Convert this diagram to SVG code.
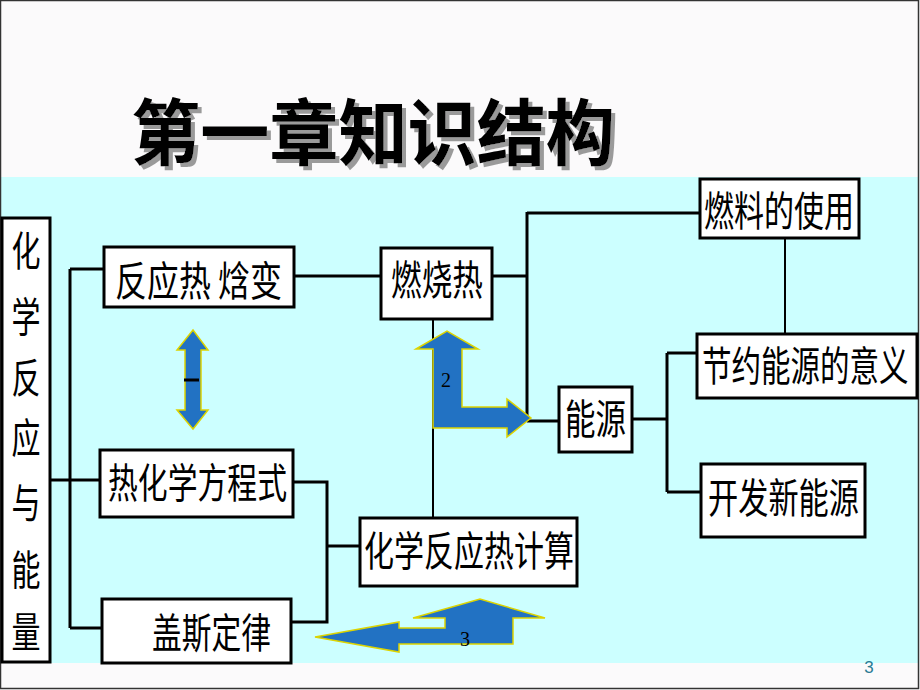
<svg xmlns="http://www.w3.org/2000/svg" width="920" height="690" viewBox="0 0 920 690">
<style>
.box{fill:#fff;stroke:#000;stroke-width:3}
.t{font-family:"Noto Sans CJK SC","Noto Sans CJK JP",sans-serif;font-size:41px;fill:#000}
.ln{fill:none;stroke:#000;stroke-width:3}
.thin{fill:none;stroke:#000;stroke-width:2}
.arr{fill:#2272C3;stroke:#DDD400;stroke-width:1.5}
.num{font-family:"Liberation Serif",serif;font-size:20px;fill:#000}
</style>
<defs>
<filter id="shadow" x="-5%" y="-20%" width="115%" height="150%">
<feOffset in="SourceAlpha" dx="4" dy="4" result="off"/>
<feFlood flood-color="#9a9a9a"/>
<feComposite in2="off" operator="in" result="sh"/>
<feMerge><feMergeNode in="sh"/><feMergeNode in="SourceGraphic"/></feMerge>
</filter>
</defs>
<rect x="0" y="0" width="920" height="690" fill="#FBFAFB"/>
<rect x="0" y="177" width="918" height="486" fill="#CCFFFF"/>
<rect x="0.5" y="0.5" width="918" height="688" fill="none" stroke="#333" stroke-width="1.5"/>
<g id="title">
<text x="131" y="159" font-family="'Noto Sans CJK SC',sans-serif" font-size="72" font-weight="700" fill="#000" textLength="484" lengthAdjust="spacingAndGlyphs" filter="url(#shadow)">第一章知识结构</text>
</g>
<g id="connectors">
<path class="ln" d="M50 480H100"/>
<path class="ln" d="M70 269V628"/>
<path class="ln" d="M70 269H104"/>
<path class="ln" d="M70 628H102"/>
<path class="ln" d="M294 276H381"/>
<path class="ln" d="M492 276H527"/>
<path class="ln" d="M527 212V421"/>
<path class="ln" d="M527 213H700"/>
<path class="ln" d="M527 421H559"/>
<path class="thin" d="M785 238V334"/>
<path class="ln" d="M632 419H667"/>
<path class="ln" d="M667 353V492"/>
<path class="ln" d="M667 353H697"/>
<path class="ln" d="M667 492H701"/>
<path class="thin" d="M433 319V518"/>
<path class="ln" d="M293 482H327V622H291"/>
<path class="ln" d="M327 546H360"/>
</g>
<g id="arrows">
<polygon class="arr" points="193,330 208,350 201,350 201,410 208,410 193,429 177,410 185,410 185,350 177,350"/>
<path d="M184 380H199" stroke="#000" stroke-width="3" fill="none"/>
<polygon class="arr" points="416,349 447,331 478,349 462,349 462,407 507,407 507,399 531,418 507,437 507,428 433,428 433,349"/>
<text class="num" x="446" y="387" text-anchor="middle">2</text>
<polygon class="arr" points="315,637 399,622 399,628 445,628 445,618 413,618 480,599 545,618 513,618 513,644 399,644 399,652"/>
<text class="num" x="465" y="646" text-anchor="middle">3</text>
</g>
<g id="n-left">
<rect class="box" x="2" y="218" width="48" height="444"/>
<text class="t" text-anchor="middle" x="26" y="266" textLength="29" lengthAdjust="spacingAndGlyphs">化</text>
<text class="t" text-anchor="middle" x="26" y="332" textLength="29" lengthAdjust="spacingAndGlyphs">学</text>
<text class="t" text-anchor="middle" x="26" y="393" textLength="29" lengthAdjust="spacingAndGlyphs">反</text>
<text class="t" text-anchor="middle" x="26" y="453" textLength="29" lengthAdjust="spacingAndGlyphs">应</text>
<text class="t" text-anchor="middle" x="26" y="518" textLength="29" lengthAdjust="spacingAndGlyphs">与</text>
<text class="t" text-anchor="middle" x="26" y="585" textLength="29" lengthAdjust="spacingAndGlyphs">能</text>
<text class="t" text-anchor="middle" x="26" y="647" textLength="29" lengthAdjust="spacingAndGlyphs">量</text>
</g>
<g id="n-fyr">
<rect class="box" x="104" y="247" width="190" height="60"/>
<text class="t" x="115" y="296" textLength="167" lengthAdjust="spacingAndGlyphs">反应热 焓变</text>
</g>
<g id="n-rsr">
<rect class="box" x="381" y="248" width="111" height="71"/>
<text class="t" x="391" y="295" textLength="92" lengthAdjust="spacingAndGlyphs">燃烧热</text>
</g>
<g id="n-rlsy">
<rect class="box" x="700" y="179" width="159" height="59"/>
<text class="t" x="704" y="226" textLength="150" lengthAdjust="spacingAndGlyphs">燃料的使用</text>
</g>
<g id="n-jyny">
<rect class="box" x="697" y="334" width="220" height="64"/>
<text class="t" transform="translate(702,381) scale(0.72,1)" x="0" y="0">节约能源的意义</text>
</g>
<g id="n-ny">
<rect class="box" x="559" y="387" width="73" height="65"/>
<text class="t" x="565" y="434" textLength="61" lengthAdjust="spacingAndGlyphs">能源</text>
</g>
<g id="n-kfxny">
<rect class="box" x="701" y="464" width="164" height="73"/>
<text class="t" x="708" y="513" textLength="151" lengthAdjust="spacingAndGlyphs">开发新能源</text>
</g>
<g id="n-hxfyrjs">
<rect class="box" x="360" y="518" width="217" height="68"/>
<text class="t" x="364" y="566" textLength="210" lengthAdjust="spacingAndGlyphs">化学反应热计算</text>
</g>
<g id="n-rhxfcs">
<rect class="box" x="100" y="450" width="193" height="67"/>
<text class="t" x="108" y="498" textLength="179" lengthAdjust="spacingAndGlyphs">热化学方程式</text>
</g>
<g id="n-gsdl">
<rect class="box" x="102" y="599" width="189" height="64"/>
<text class="t" x="152" y="648" textLength="119" lengthAdjust="spacingAndGlyphs">盖斯定律</text>
</g>
<text x="869" y="673" text-anchor="middle" font-family="'Liberation Sans',sans-serif" font-size="17" fill="#2A7A94">3</text>
</svg>
